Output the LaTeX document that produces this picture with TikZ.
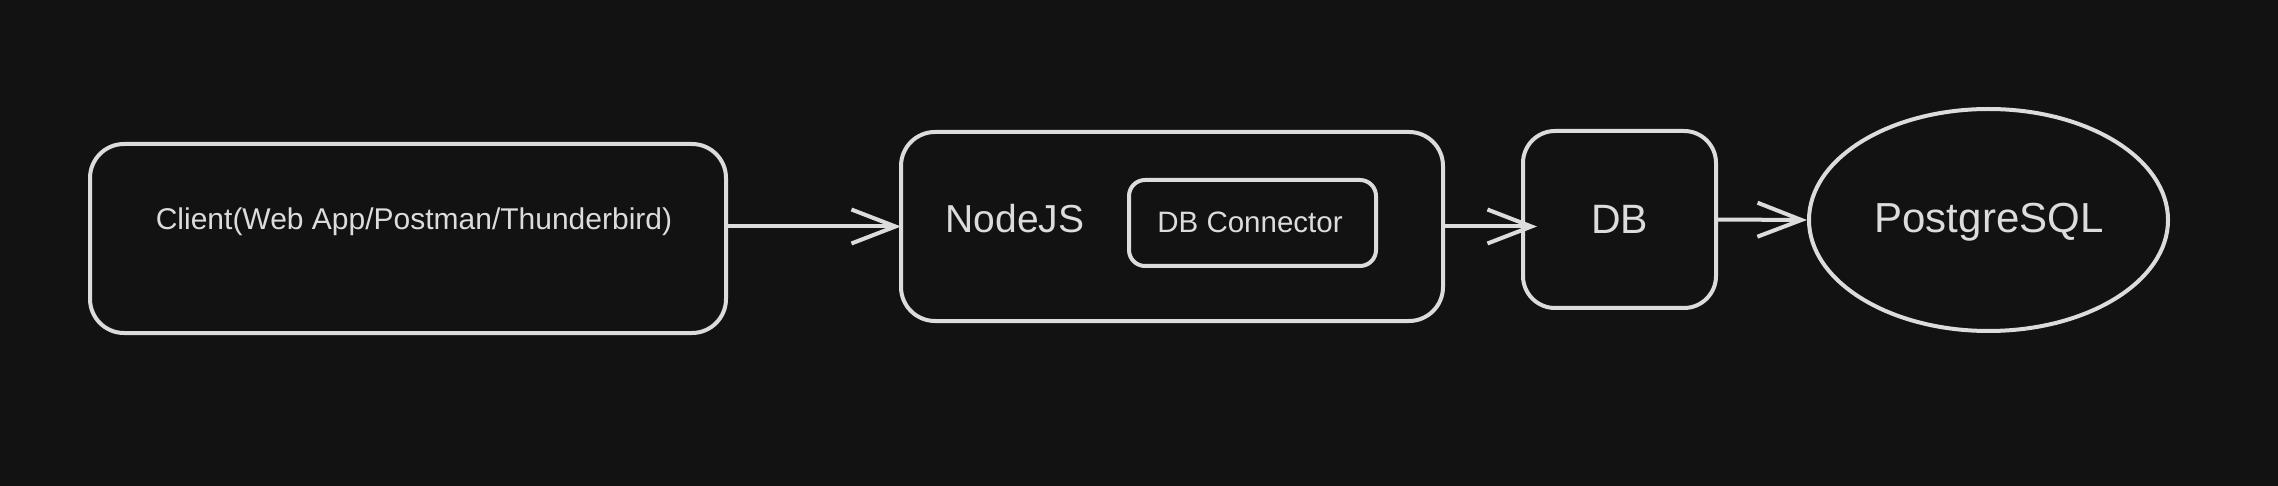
\documentclass[tikz,border=0pt]{standalone}
\usepackage{fontspec}
\setmainfont{Liberation Sans}
\usetikzlibrary{arrows.meta,shapes.geometric}
\definecolor{bgc}{HTML}{121212}
\definecolor{ink}{HTML}{DCDCDC}
\tikzset{
  box/.style={draw=ink, line width=4pt, rounded corners=#1, inner sep=0pt, outer sep=0pt},
  box/.default=34pt,
  txt/.style={text=ink, inner sep=0pt, font=\fontsize{#1}{#1}\selectfont},
  conn/.style={draw=ink, line width=4pt, -{Straight Barb[length=44pt,width=34pt]}},
}
\begin{document}
\begin{tikzpicture}[x=1pt, y=-1pt]
\useasboundingbox (0,0) rectangle (2278,486);
\fill[bgc] (0,0) rectangle (2278,486);

\node[box, minimum width=636pt, minimum height=189pt] (client) at (408,238.5) {};
\node[txt=30] (clienttext) at (414,222) {Client(Web App/Postman/Thunderbird)};

\node[box, minimum width=542pt, minimum height=189pt] (nodejs) at (1172,226.5) {};
\node[txt=39] (nodejstext) at (1015,219) {NodeJS};
\node[box=16pt, minimum width=247pt, minimum height=86pt] (connector) at (1252.5,223) {};
\node[txt=29.5] (connectortext) at (1250,222) {DB Connector};

\node[box=32pt, minimum width=193pt, minimum height=177pt, txt=41] (db) at (1619.5,219.5) {DB};

\node[draw=ink, line width=4pt, ellipse, inner sep=0pt, minimum width=359pt, minimum height=222pt] (pg) at (1988.5,220) {};
\node[txt=42] (pgtext) at (1989,222) {PostgreSQL};

\draw[conn] (client.east |- nodejs.west) -- (nodejs.west);
\draw[conn] (nodejs.east) -- ([xshift=14pt]db.west |- nodejs.east);
\draw[conn] (db.east) -- (pg.west);
\end{tikzpicture}
\end{document}
